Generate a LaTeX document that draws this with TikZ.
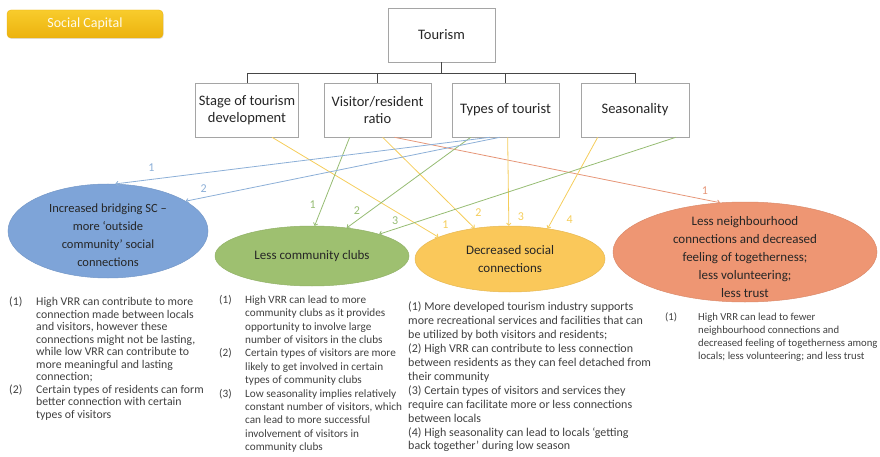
\documentclass[tikz,border=0pt]{standalone}
\usepackage{fontspec}
\setmainfont{Carlito}
\usetikzlibrary{shapes.geometric,arrows.meta,calc,shadows}

\definecolor{boxgray}{RGB}{165,165,165}
\definecolor{treegray}{RGB}{70,70,70}
\definecolor{txt}{RGB}{38,38,38}
\definecolor{bodytxt}{RGB}{64,64,64}
\definecolor{capA}{RGB}{248,204,44}
\definecolor{capB}{RGB}{236,178,14}
\definecolor{eblue}{RGB}{126,164,216}
\definecolor{egreen}{RGB}{158,192,112}
\definecolor{eyellow}{RGB}{250,200,90}
\definecolor{eorange}{RGB}{238,150,115}
\definecolor{lblue}{RGB}{140,175,215}
\definecolor{lgreen}{RGB}{150,188,115}
\definecolor{lyellow}{RGB}{245,205,90}
\definecolor{lorange}{RGB}{230,150,120}

\newlength\hangw
\setlength\hangw{27pt}
\newcommand\itemno[1]{\makebox[\hangw][l]{#1}}
\newcommand\hang{\hspace*{\hangw}}

\begin{document}
\begin{tikzpicture}[x=1pt,y=-1pt,
  factor/.style={draw=boxgray, line width=0.7pt, fill=white, minimum width=107pt,
    minimum height=54pt, align=center, text=txt, inner sep=1pt,
    font=\fontsize{14.5}{17.5}\selectfont},
  tree/.style={draw=treegray, line width=0.9pt},
  bubble/.style={ellipse, inner sep=0pt, line width=0.5pt},
  bubtext/.style={align=center, text=txt, inner sep=0pt,
    font=\fontsize{13}{18}\selectfont},
  body/.style={align=left, text=bodytxt, inner sep=0pt, anchor=north west,
    font=\fontsize{11.5}{13.4}\selectfont},
  link/.style={line width=0.8pt, -{To[length=3pt,width=5pt]}},
  num/.style={font=\fontsize{12}{12}\selectfont, inner sep=0pt}
]
\useasboundingbox (0,0) rectangle (880,457);

% header button
\node[rounded corners=4pt, minimum width=156pt, minimum height=28pt,
  top color=capA, bottom color=capB, draw=capB,
  drop shadow={shadow xshift=0.6pt, shadow yshift=-1pt, opacity=0.25},
  text=white!92!capA, font=\fontsize{14}{16}\selectfont] (cap) at (85,24) {Social Capital};

% factor tree
\node[factor] (tour) at (441.5,35) {Tourism};
\node[factor, minimum width=103pt] (stage) at (247,110) {Stage of tourism\\development};
\node[factor] (vrr) at (377.5,110) {Visitor/resident\\ratio};
\node[factor] (types) at (505.5,110) {Types of tourist};
\node[factor, minimum width=108pt] (season) at (635,110) {Seasonality};

\coordinate (bus) at (441.5,73);
\draw[tree] (tour.south) -- (tour.south |- bus);
\draw[tree] (stage.north) -- (stage.north |- bus) -- (season.north |- bus) -- (season.north);
\draw[tree] (vrr.north) -- (vrr.north |- bus);
\draw[tree] (types.north) -- (types.north |- bus);

% outcome bubbles
\node[bubble, fill=eblue, draw=eblue!92!black, minimum width=200pt, minimum height=94pt] (bridge) at (108,231) {};
\node[bubble, fill=egreen, draw=egreen!92!black, minimum width=194pt, minimum height=60pt] (clubs) at (312,256) {};
\node[bubble, fill=eyellow, draw=eyellow!92!black, minimum width=190pt, minimum height=66pt] (social) at (510,259) {};
\node[bubble, fill=eorange, draw=eorange!92!black, minimum width=264pt, minimum height=100pt] (neigh) at (745,252) {};

\node[bubtext, font=\fontsize{12.5}{18}\selectfont] (bridgeT) at (108,235) {Increased bridging SC –\\more ‘outside\\community’ social\\connections};
\node[bubtext] (clubsT) at (312,256) {Less community clubs};
\node[bubtext] (socialT) at (510,259) {Decreased social\\connections};
\node[bubtext] (neighT) at (745,257) {Less neighbourhood\\connections and decreased\\feeling of togetherness;\\less volunteering;\\less trust};

% start points on the factor boxes
\coordinate (sB1) at ($(types.south west)+(38,0)$);
\coordinate (sB2) at ($(types.south west)+(48,0)$);
\coordinate (sG1) at ($(vrr.south west)+(26,0)$);
\coordinate (sG2) at ($(types.south west)+(19,0)$);
\coordinate (sG3) at ($(season.south west)+(95,0)$);
\coordinate (sY1) at ($(stage.south west)+(77,0)$);
\coordinate (sY2) at ($(vrr.south west)+(59,0)$);
\coordinate (sY3) at ($(types.south west)+(56,0)$);
\coordinate (sY4) at ($(season.south west)+(17,0)$);
\coordinate (sO1) at ($(vrr.south west)+(71,0)$);

% influence links
\draw[link, lorange] (sO1) -- (neigh.117) node[num, pos=1, xshift=-15pt, yshift=12pt] (nO1) {1};
\draw[link, lyellow] (sY1) -- (social.163) node[num, pos=1, xshift=7pt, yshift=12pt] (nY1) {1};
\draw[link, lyellow] (sY2) -- (social.139) node[num, pos=1, xshift=4pt, yshift=16pt] (nY2) {2};
\draw[link, lyellow] (sY3) -- (social.92) node[num, pos=1, xshift=12pt, yshift=9pt] (nY3) {3};
\draw[link, lyellow] (sY4) -- (social.39) node[num, pos=1, xshift=22pt, yshift=9pt] (nY4) {4};
\draw[link, lgreen] (sG1) -- (clubs.85) node[num, pos=1, xshift=-2pt, yshift=21pt] (nG1) {1};
\draw[link, lgreen] (sG2) -- (clubs.39) node[num, pos=1, xshift=10pt, yshift=17pt] (nG2) {2};
\draw[link, lgreen] (sG3) -- (clubs.18) node[num, pos=1, xshift=16pt, yshift=14pt] (nG3) {3};
\draw[link, lblue] (sB1) -- (bridge.81) node[num, pos=1, xshift=36pt, yshift=16pt] (nB1) {1};
\draw[link, lblue] (sB2) -- (bridge.21) node[num, pos=1, xshift=18pt, yshift=13pt] (nB2) {2};

% explanatory notes
\node[body, font=\fontsize{11.8}{12.5}\selectfont] (bridgeN) at (9,297) {%
\itemno{(1)}High VRR can contribute to more\\
\hang connection made between locals\\
\hang and visitors, however these\\
\hang connections might not be lasting,\\
\hang while low VRR can contribute  to\\
\hang more meaningful and lasting\\
\hang connection;\\
\itemno{(2)}Certain types of residents can form\\
\hang better connection with certain\\
\hang types of visitors};

\setlength\hangw{26pt}
\node[body, font=\fontsize{11.2}{13.4}\selectfont] (clubsN) at (219,295) {%
\itemno{(1)}High VRR can lead to more\\
\hang community  clubs as it provides\\
\hang opportunity  to involve large\\
\hang number  of visitors in the clubs\\
\itemno{(2)}Certain types of visitors are more\\
\hang likely to get involved in certain\\
\hang types of community  clubs\\
\itemno{(3)}Low seasonality implies relatively\\
\hang constant number  of visitors, which\\
\hang can lead to more successful\\
\hang involvement of visitors in\\
\hang community  clubs};

\node[body, font=\fontsize{12}{13.9}\selectfont] (socialN) at (408,302) {%
(1) More  developed tourism industry supports\\
more recreational services and facilities that can\\
be utilized by both visitors and residents;\\
(2) High VRR can contribute to less connection\\
between residents as they can feel detached from\\
their community\\
(3) Certain types of visitors and services they\\
require can facilitate more or less connections\\
between locals\\
(4) High seasonality can lead to locals ‘getting\\
back together’ during low season};

\setlength\hangw{33pt}
\node[body, font=\fontsize{10.7}{13.2}\selectfont] (neighN) at (665,312) {%
\itemno{(1)}High VRR can lead to fewer\\
\hang neighbourhood  connections and\\
\hang decreased feeling of togetherness among\\
\hang locals; less volunteering; and less trust};
\end{tikzpicture}
\end{document}
